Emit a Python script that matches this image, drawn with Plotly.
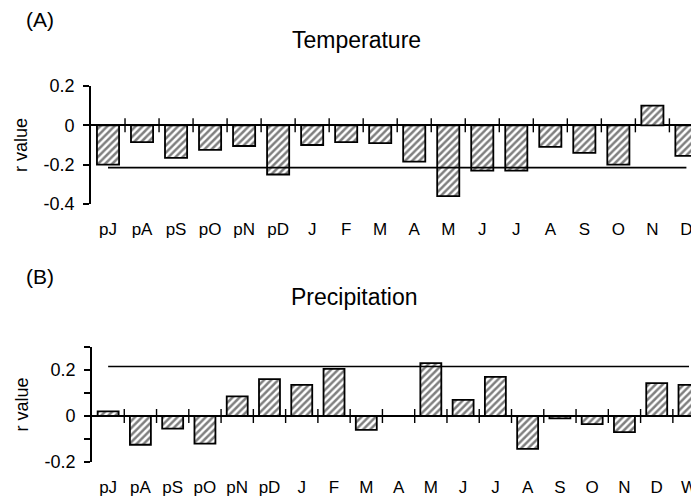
import plotly.graph_objects as go

temp_labels = ["pJ", "pA", "pS", "pO", "pN", "pD", "J", "F", "M", "A", "M", "J", "J", "A", "S", "O", "N", "D"]
temp_r = [-0.20, -0.085, -0.165, -0.125, -0.105, -0.25, -0.10, -0.085, -0.09, -0.185,
          -0.36, -0.23, -0.23, -0.11, -0.14, -0.20, 0.10, -0.155]
temp_threshold = -0.215

precip_labels = ["pJ", "pA", "pS", "pO", "pN", "pD", "J", "F", "M", "A", "M", "J", "J", "A", "S", "O", "N", "D", "W"]
precip_r = [0.02, -0.125, -0.055, -0.12, 0.085, 0.16, 0.135, 0.205, -0.06, 0.0,
            0.23, 0.07, 0.17, -0.143, -0.01, -0.035, -0.07, 0.143, 0.135]
precip_threshold = 0.215

temp_yticks = [-0.4, -0.2, 0, 0.2]
temp_yticktext = ["-0.4", "-0.2", "0", "0.2"]
precip_yticks = [-0.2, -0.1, 0, 0.1, 0.2, 0.3]
precip_yticktext = ["-0.2", "", "0", "", "0.2", ""]

FONT = "Liberation Sans, Arial, sans-serif"

# The page body has an 8px default margin, so the figure is 8px smaller
W, H = 691, 489
OFF = 8


def px_x(x):
    return (x - OFF) / W


def px_y(y):
    return 1 - (y - OFF) / H


fig = go.Figure()


def add_panel(labels, vals, thr, xa, ya):
    xs = list(range(len(labels)))
    fig.add_trace(go.Bar(
        x=xs, y=vals, xaxis=xa, yaxis=ya, showlegend=False,
        marker=dict(color="white",
                    line=dict(color="black", width=1.8),
                    pattern=dict(shape="/", fgcolor="black", bgcolor="white",
                                 size=5, solidity=0.5)),
    ))
    # category boundary ticks on the zero line
    bounds = [i - 0.5 for i in range(1, len(labels))]
    fig.add_trace(go.Scatter(
        x=bounds, y=[0] * len(bounds), xaxis=xa, yaxis=ya, mode="markers",
        showlegend=False, hoverinfo="skip",
        marker=dict(symbol="line-ns-open", size=10, color="black",
                    line=dict(color="black", width=1.4)),
    ))
    # significance threshold line
    fig.add_trace(go.Scatter(
        x=[xs[0], xs[-1]], y=[thr, thr], xaxis=xa, yaxis=ya, mode="lines",
        showlegend=False, hoverinfo="skip",
        line=dict(color="black", width=1.6),
    ))


add_panel(temp_labels, temp_r, temp_threshold, "x", "y")
add_panel(precip_labels, precip_r, precip_threshold, "x2", "y2")

axis_font = dict(family=FONT, size=17, color="black")

xcommon = dict(showgrid=False, showline=False, zeroline=False, ticks="",
               tickfont=axis_font, tickmode="array", ticklabelstandoff=13,
               automargin=False)
ycommon = dict(showgrid=False, showline=True, linecolor="black", linewidth=1.6,
               ticks="outside", ticklen=6, tickwidth=1.6, tickcolor="black",
               zeroline=True, zerolinecolor="black", zerolinewidth=1.8,
               tickfont=dict(family=FONT, size=18, color="black"),
               tickmode="array", ticklabelstandoff=5, automargin=False,
               title=dict(text="r value", font=dict(family=FONT, size=18, color="black"),
                          standoff=11))

fig.update_layout(
    width=W, height=H,
    margin=dict(l=0, r=0, t=0, b=0, autoexpand=False),
    paper_bgcolor="white", plot_bgcolor="white",
    bargap=0.35,
    xaxis=dict(domain=[px_x(91), 1], anchor="y", range=[-0.5, 17.37],
               tickvals=list(range(len(temp_labels))), ticktext=temp_labels, **xcommon),
    yaxis=dict(domain=[px_y(204), px_y(86)], anchor="x", range=[-0.4, 0.2],
               tickvals=temp_yticks, ticktext=temp_yticktext, **ycommon),
    xaxis2=dict(domain=[px_x(92), 1], anchor="y2", range=[-0.5, 18.31],
                tickvals=list(range(len(precip_labels))), ticktext=precip_labels, **xcommon),
    yaxis2=dict(domain=[px_y(462), px_y(347)], anchor="x2", range=[-0.2, 0.3],
                tickvals=precip_yticks, ticktext=precip_yticktext, **ycommon),
    annotations=[
        dict(text="(A)", x=px_x(24), y=px_y(19), xref="paper", yref="paper",
             xanchor="left", yanchor="middle", showarrow=False,
             font=dict(family=FONT, size=21, color="black")),
        dict(text="Temperature", x=px_x(356), y=px_y(40), xref="paper", yref="paper",
             xanchor="center", yanchor="middle", showarrow=False,
             font=dict(family=FONT, size=23, color="black")),
        dict(text="(B)", x=px_x(24), y=px_y(276), xref="paper", yref="paper",
             xanchor="left", yanchor="middle", showarrow=False,
             font=dict(family=FONT, size=21, color="black")),
        dict(text="Precipitation", x=px_x(355), y=px_y(297), xref="paper", yref="paper",
             xanchor="center", yanchor="middle", showarrow=False,
             font=dict(family=FONT, size=23, color="black")),
    ],
)

fig.write_html("out.html")
